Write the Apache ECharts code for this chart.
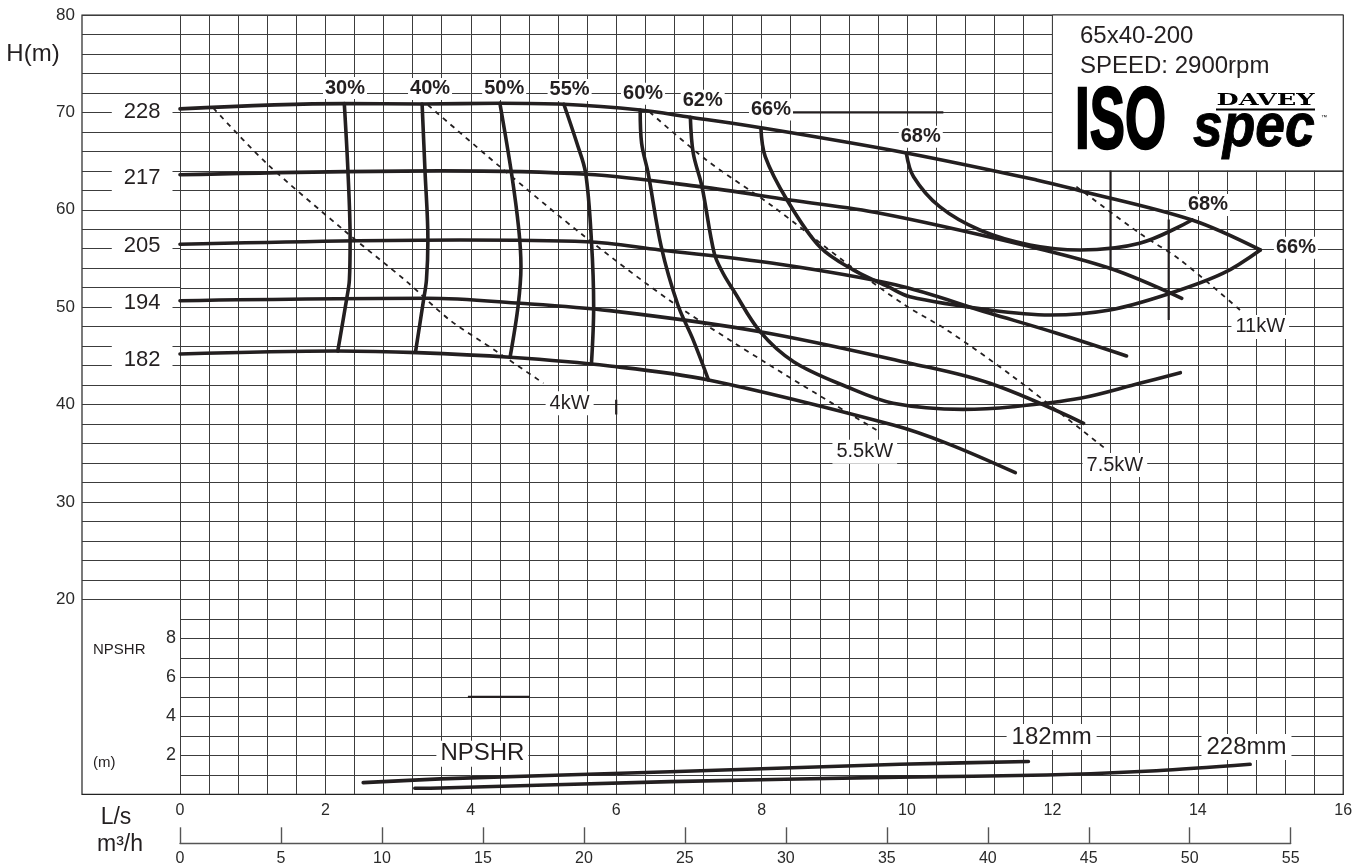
<!DOCTYPE html>
<html><head><meta charset="utf-8">
<script src="https://cdn.jsdelivr.net/npm/echarts@6/dist/echarts.min.js"></script>
<style>html,body{margin:0;padding:0;background:#fff}#c{width:1369px;height:868px}</style>
</head><body><div id="c"></div>
<script>
// ---------- tick labels ----------
const flowTicksLs = [0,2,4,6,8,10,12,14,16];
const flowTicksM3h = [0,5,10,15,20,25,30,35,40,45,50,55];
const headTicks = [20,30,40,50,60,70,80];
const npshrTicks = [2,4,6,8];

// ---------- impeller diameter H-Q curves [Q L/s, H m] ----------
const diameters = ['228','217','205','194','182'];
const d228 = [[0,70.36],[2.26,70.9],[3.33,70.87],[4.40,70.94],[5.28,70.84],[6.33,70.25],[7.02,69.5],[7.99,68.43],[9.99,65.84],[11.78,63.07],[12.38,61.97],[13.92,58.96],[14.86,55.88]];
const d217 = [[0,63.6],[3.58,64.0],[5.59,63.65],[7.15,62.38],[8.39,61.01],[9.63,59.65],[11.6,56.39],[12.79,54.0],[13.78,50.92]];
const d205 = [[0,56.46],[3.85,56.9],[5.59,56.73],[6.60,55.88],[8.16,54.51],[9.84,52.3],[11.14,49.38],[12.06,47.33],[13.02,45.0]];
const d194 = [[0,50.67],[3.39,50.92],[4.68,50.41],[5.91,49.65],[7.98,47.49],[10.04,44.25],[11.14,42.19],[12.43,38.09]];
const d182 = [[0,45.2],[2.16,45.5],[3.26,45.34],[4.54,44.86],[5.91,43.97],[7.27,42.53],[9.81,37.91],[10.55,36.03],[11.49,33.02]];

// ---------- efficiency iso-lines ----------
const effNames = ['30%','40%','50%','55%','60%','62%','66%','68%'];
const e30 = [[2.26,70.9],[2.31,64.0],[2.34,57.0],[2.33,52.8],[2.29,50.75],[2.17,45.5]];
const e40 = [[3.33,70.87],[3.37,64.0],[3.41,56.9],[3.39,52.8],[3.35,50.75],[3.24,45.44]];
const e50 = [[4.40,70.94],[4.56,63.75],[4.66,58.0],[4.69,54.2],[4.65,50.1],[4.54,44.86]];
const e55 = [[5.28,70.84],[5.46,66.83],[5.58,63.75],[5.66,56.73],[5.69,50.06],[5.66,44.25]];
const e60 = [[6.33,70.25],[6.35,66.8],[6.44,63.75],[6.62,56.2],[6.85,50.2],[7.05,46.8],[7.27,42.53]];
const e62 = [[7.02,69.5],[7.06,65.8],[7.18,62.38],[7.35,55.5],[7.47,53.49],[7.61,51.77],[7.98,47.49],[8.44,44.41],[9.17,41.84],[9.81,40.14],[10.77,39.52],[11.46,39.79],[12.38,40.65],[13.2,42.19],[13.76,43.28]];
const e66 = [[7.99,68.43],[8.05,65.46],[8.35,61.01],[8.80,56.2],[9.26,53.83],[9.74,52.11],[10.04,51.08],[11.14,49.72],[11.97,49.21],[12.79,49.72],[13.62,51.43],[14.35,53.49],[14.86,55.88]];
const e68 = [[9.99,65.84],[10.09,63.4],[10.45,60.32],[11.0,57.93],[11.69,56.39],[12.38,55.88],[13.2,56.56],[13.92,58.96]];

// ---------- power lines (dashed) ----------
const powerNames = ['4kW','5.5kW','7.5kW','11kW'];
const p4  = [[0.46,70.43],[1.19,64.78],[2.25,57.93],[3.12,52.63],[3.71,48.69],[4.36,45.44],[5.0,42.19]];
const p55 = [[3.41,70.76],[4.40,64.43],[5.57,57.24],[6.79,50.41],[8.07,44.25],[9.58,37.4]];
const p75 = [[6.46,70.04],[7.24,65.12],[8.16,60.32],[9.17,54.51],[9.97,50.22],[10.55,47.66],[11.46,42.87],[12.75,35.35]];
const p11 = [[12.33,62.38],[13.2,57.59],[13.76,54.85],[14.58,49.72]];

// ---------- NPSHR curves [Q L/s, NPSHR m] ----------
const npshrNames = ['182mm','228mm'];
const n182 = [[2.52,0.60],[3.58,0.79],[6.74,1.16],[9.90,1.54],[11.67,1.68]];
const n228 = [[3.23,0.31],[3.58,0.32],[6.74,0.65],[9.90,0.88],[11.92,0.99],[13.43,1.21],[14.72,1.54]];

// ---------- stray print marks ----------
const stray1 = [[8.43,70],[10.5,70]];
const stray2 = [[3.96,10],[4.81,10]];
const stray3 = [[12.8,64],[12.8,53.8]];
const stray4 = [[13.6,59],[13.6,48.7]];
const stray5 = [[6.0,40.5],[6.0,39.0]];

// ---------- layout ----------
const INK = '#231f20';
const FONT = 'Liberation Sans, Arial, sans-serif';
const X0 = 180, YTOP = 15, YBOT = 794.3, XR = 1343.2;
const PW = XR - X0, PH = YBOT - YTOP;

const effAnchors = [[2.27,72.5],[3.44,72.4],[4.46,72.4],[5.36,72.3],[6.37,71.9],[7.19,71.2],[8.13,70.3],[10.19,67.5]];
const extraEffLabels = [['68%',14.14,60.5],['66%',15.35,56.1]];
const powerAnchors = [[5.36,40.15],[9.42,35.17],[12.86,33.8],[14.86,47.97]];
const diamAnchors = [70.0,63.24,56.29,50.44,44.59];
const npshrAnchors = [[11.99,2.94],[14.67,2.43]];

const chart = echarts.init(document.getElementById('c'), null, {renderer:'canvas'});

function curve(data, extra) {
  return Object.assign({
    type:'line', data, xAxisIndex:0, yAxisIndex:0, smooth:0.35, symbol:'none', silent:true,
    lineStyle:{color:INK, width:3.6, cap:'round', join:'round'}, z:3
  }, extra||{});
}
function dashed(data) {
  return curve(data, {smooth:0.3, lineStyle:{color:INK, width:1.8, type:[5,5]}, z:2});
}
function seg(data) {
  return {type:'line', data, symbol:'none', silent:true, xAxisIndex:0, yAxisIndex:0, lineStyle:{color:INK, width:2.2}, z:2};
}
function labelSeries(items, fs, bold, xi, yi, pad) {
  return {
    type:'scatter', xAxisIndex:xi, yAxisIndex:yi, symbolSize:0.1, silent:true, clip:false,
    itemStyle:{color:'#fff', opacity:1}, z:10,
    data: items.map(d=>({value:[d[1],d[2]], name:d[0]})),
    label:{show:true, position:[0,0], align:'center', verticalAlign:'middle',
      formatter:p=>p.name, color:INK, opacity:1, textBorderWidth:0,
      fontSize:fs, fontFamily:FONT, fontWeight: bold?'bold':'normal', backgroundColor:'#fff', padding:pad}
  };
}

const diamSeries = [d228,d217,d205,d194,d182];
const effSeries = [e30,e40,e50,e55,e60,e62,e66,e68];
const powerSeries = [p4,p55,p75,p11];

const series = [];
diamSeries.forEach((d,i)=>{
  const s = curve(d);
  if (i===0) {
    s.markArea = {silent:true, itemStyle:{color:'#fff', borderColor:'#333', borderWidth:1},
      data:[[{coord:[12,64]},{coord:[16,80]}]]};
  }
  series.push(s);
});
effSeries.forEach(d=>series.push(curve(d)));
powerSeries.forEach(d=>series.push(dashed(d)));
series.push(curve(n182,{yAxisIndex:1, smooth:0.2}));
series.push(curve(n228,{yAxisIndex:1, smooth:0.3}));
[stray1,stray2,stray3,stray4,stray5].forEach(d=>series.push(seg(d)));

series.push(labelSeries(effNames.map((n,i)=>[n,effAnchors[i][0],effAnchors[i][1]]).concat(extraEffLabels), 20, true, 0, 0, [1,2]));
series.push(labelSeries(powerNames.map((n,i)=>[n,powerAnchors[i][0],powerAnchors[i][1]]), 20, false, 0, 0, [2,4]));
series.push(labelSeries(npshrNames.map((n,i)=>[n,npshrAnchors[i][0],npshrAnchors[i][1]]), 24, false, 0, 1, [1,5]));
series.push(labelSeries([['NPSHR',4.16,2.08]], 24, false, 0, 1, [1,4]));
series.push(labelSeries(diameters.map((n,i)=>[n,-0.52,diamAnchors[i]]), 22, false, 1, 2, [3,12]));

const gridLine = {show:true, lineStyle:{color:'#3c3c3c', width:1}};

const option = {
  backgroundColor:'#fff',
  animation:false,
  grid:[
    {left:X0, top:YTOP, width:PW, height:PH},
    {left:82, top:YTOP, width:X0-82, height:584.3},
    {left:82, top:YTOP, width:XR-82, height:PH, show:true, borderColor:'#222', borderWidth:1.2, backgroundColor:'transparent'},
    {left:X0, top:833, width:55/3.6*(PW/16), height:10.3}
  ],
  xAxis:[
    {gridIndex:0, type:'value', min:0, max:16, interval:0.4,
      splitLine:gridLine, axisTick:{show:false},
      axisLine:{show:true, onZero:false, lineStyle:{color:'#222', width:1.2}},
      axisLabel:{margin:8, fontSize:16, color:'#2a2a2a', fontFamily:FONT,
        formatter:v=>{const r=Math.round(v); return (Math.abs(v-r)<1e-6 && flowTicksLs.includes(r)) ? String(r) : '';}}},
    {gridIndex:1, type:'value', min:-(X0-82)/(PW/16), max:0, show:false},
    {gridIndex:2, type:'value', min:0, max:1, show:false},
    {gridIndex:3, type:'value', min:0, max:55, interval:5, position:'bottom',
      splitLine:{show:false},
      axisLine:{show:true, onZero:false, lineStyle:{color:'#555', width:1.4}},
      axisTick:{show:true, inside:true, length:16, lineStyle:{color:'#555', width:1.4}},
      axisLabel:{margin:7, fontSize:16, color:'#2a2a2a', fontFamily:FONT,
        formatter:v=>flowTicksM3h.includes(Math.round(v)) ? String(Math.round(v)) : ''}}
  ],
  yAxis:[
    {gridIndex:0, type:'value', min:0, max:80, interval:2, splitLine:gridLine,
      axisLine:{show:false}, axisTick:{show:false}, axisLabel:{show:false}},
    {gridIndex:0, type:'value', min:0, max:40, interval:1, position:'left', splitLine:{show:false},
      axisLine:{show:false}, axisTick:{show:false},
      axisLabel:{margin:4, fontSize:18, color:'#2a2a2a', fontFamily:FONT,
        formatter:v=>npshrTicks.includes(v) ? String(v) : ''}},
    {gridIndex:1, type:'value', min:20, max:80, interval:2, splitLine:gridLine,
      axisLine:{show:false}, axisTick:{show:false},
      axisLabel:{margin:7, fontSize:17, color:'#2a2a2a', fontFamily:FONT,
        formatter:v=>headTicks.includes(v) ? String(v) : ''}},
    {gridIndex:2, type:'value', min:0, max:1, show:false},
    {gridIndex:3, type:'value', min:0, max:1, show:false}
  ],
  graphic:[
    {type:'text', x:33, y:54, style:{text:'H(m)', font:'24px '+FONT, fill:INK, textAlign:'center', textVerticalAlign:'middle'}},
    {type:'text', x:116, y:818, style:{text:'L/s', font:'23px '+FONT, fill:INK, textAlign:'center', textVerticalAlign:'middle'}},
    {type:'text', x:120, y:845, style:{text:'m³/h', font:'23px '+FONT, fill:INK, textAlign:'center', textVerticalAlign:'middle'}},
    {type:'text', x:93, y:650, style:{text:'NPSHR', font:'15px '+FONT, fill:INK, textAlign:'left', textVerticalAlign:'middle'}},
    {type:'text', x:93, y:763, style:{text:'(m)', font:'15px '+FONT, fill:INK, textAlign:'left', textVerticalAlign:'middle'}},
    {type:'text', x:1080, y:36, z:20, style:{text:'65x40-200', font:'24px '+FONT, fill:INK, textAlign:'left', textVerticalAlign:'middle'}},
    {type:'text', x:1080, y:66, z:20, style:{text:'SPEED: 2900rpm', font:'24px '+FONT, fill:INK, textAlign:'left', textVerticalAlign:'middle'}},
    {type:'text', x:1075, y:124, scaleX:0.6, z:20, style:{text:'ISO', font:'bold 88px '+FONT, fill:'#000', stroke:'#000', lineWidth:2.5, textAlign:'left', textVerticalAlign:'middle'}},
    {type:'text', x:1193, y:129, scaleX:0.86, z:20, style:{text:'spec', font:'italic bold 62px '+FONT, fill:'#000', stroke:'#000', lineWidth:1, textAlign:'left', textVerticalAlign:'middle'}},
    {type:'text', x:1265.5, y:101, scaleX:1.6, z:20, style:{text:'DAVEY', font:'bold 16px DejaVu Serif, serif', fill:'#000', textAlign:'center', textVerticalAlign:'middle'}},
    {type:'line', z:20, shape:{x1:1216, y1:109.5, x2:1315, y2:109.5}, style:{stroke:'#000', lineWidth:2}},
    {type:'text', x:1321, y:117, z:20, style:{text:'™', font:'6px '+FONT, fill:'#000', textAlign:'left', textVerticalAlign:'middle'}}
  ],
  series
};
chart.setOption(option);
</script></body></html>
